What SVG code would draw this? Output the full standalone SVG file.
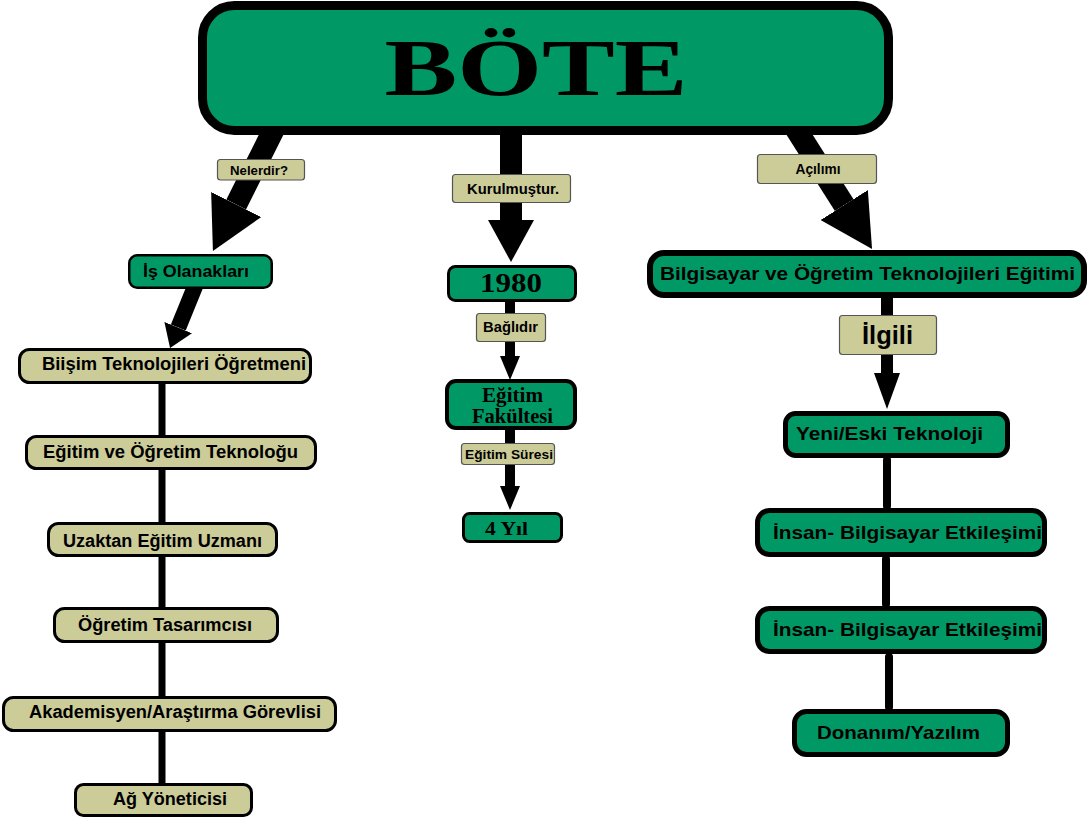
<svg xmlns="http://www.w3.org/2000/svg" width="1088" height="818" viewBox="0 0 1088 818">
<style>
.g{fill:#009966;stroke:#000}
.b{fill:#CCCC99;stroke:#000;stroke-width:3}
.lb{fill:#CCCC99;stroke:#555;stroke-width:1.2}
.t{font-family:"Liberation Sans",Arial,sans-serif;font-weight:bold;fill:#000;text-anchor:middle}
.s{font-family:"Liberation Serif","Times New Roman",serif;font-weight:bold;fill:#000;text-anchor:middle}
.c{stroke:#000;fill:none}
</style>
<defs>
<marker id="hBig" markerUnits="userSpaceOnUse" markerWidth="54" markerHeight="56" viewBox="0 0 54 56" refX="0" refY="28" orient="auto"><path d="M0,0 L52,28 L0,56 z" fill="#000"/></marker>
<marker id="hMid" markerUnits="userSpaceOnUse" markerWidth="44" markerHeight="46" viewBox="0 0 44 46" refX="0" refY="23" orient="auto"><path d="M0,0 L42,23 L0,46 z" fill="#000"/></marker>
<marker id="hIs" markerUnits="userSpaceOnUse" markerWidth="24" markerHeight="30" viewBox="0 0 24 30" refX="0" refY="15" orient="auto"><path d="M0,0 L22,15 L0,30 z" fill="#000"/></marker>
<marker id="hSm" markerUnits="userSpaceOnUse" markerWidth="26" markerHeight="20" viewBox="0 0 26 20" refX="0" refY="10" orient="auto"><path d="M0,0 L24,10 L0,20 z" fill="#000"/></marker>
<marker id="hIl" markerUnits="userSpaceOnUse" markerWidth="36" markerHeight="26" viewBox="0 0 36 26" refX="0" refY="13" orient="auto"><path d="M0,0 L36,13 L0,26 z" fill="#000"/></marker>
</defs>

<g id="connectors">
<line class="c" x1="274.5" y1="128" x2="236.2" y2="204.5" stroke-width="22" marker-end="url(#hBig)"/>
<line class="c" x1="511" y1="128" x2="511" y2="220" stroke-width="22" marker-end="url(#hMid)"/>
<line class="c" x1="795.6" y1="128.5" x2="844.2" y2="205.1" stroke-width="22" marker-end="url(#hBig)"/>
<line class="c" x1="195.4" y1="285.4" x2="178.3" y2="327.6" stroke-width="16" marker-end="url(#hIs)"/>
<line class="c" x1="510" y1="300" x2="510" y2="356" stroke-width="10" marker-end="url(#hSm)"/>
<line class="c" x1="510" y1="428" x2="510" y2="486" stroke-width="10" marker-end="url(#hSm)"/>
<line class="c" x1="887" y1="296" x2="887" y2="373" stroke-width="12" marker-end="url(#hIl)"/>
<g stroke="#000" stroke-width="7">
<line x1="162" y1="383" x2="162" y2="436"/>
<line x1="162" y1="469" x2="162" y2="523"/>
<line x1="162" y1="556" x2="162" y2="608"/>
<line x1="162" y1="642" x2="162" y2="697"/>
<line x1="162" y1="731" x2="162" y2="784"/>
</g>
<g stroke="#000" stroke-width="8" stroke-linecap="round">
<line x1="887" y1="460" x2="887" y2="506"/>
<line x1="886" y1="559" x2="886" y2="604"/>
<line x1="889" y1="657" x2="889" y2="707"/>
</g>
</g>

<g id="labels">
<rect class="lb" x="217.5" y="159.5" width="87" height="20.5" rx="3"/>
<text class="t" x="259" y="174.5" font-size="13" textLength="58" lengthAdjust="spacingAndGlyphs">Nelerdir?</text>
<rect class="lb" x="452.5" y="174.5" width="118" height="28" rx="3"/>
<text class="t" x="513" y="194" font-size="14" textLength="92" lengthAdjust="spacingAndGlyphs">Kurulmuştur.</text>
<rect class="lb" x="757.5" y="154.5" width="119" height="29" rx="3"/>
<text class="t" x="818" y="174" font-size="14" textLength="45" lengthAdjust="spacingAndGlyphs">Açılımı</text>
<rect class="lb" x="476.5" y="313.5" width="69" height="28" rx="3"/>
<text class="t" x="510.5" y="332" font-size="14" textLength="55" lengthAdjust="spacingAndGlyphs">Bağlıdır</text>
<rect class="lb" x="461.5" y="443.5" width="93" height="21" rx="3"/>
<text class="t" x="509" y="458.5" font-size="13" textLength="88" lengthAdjust="spacingAndGlyphs">Eğitim Süresi</text>
<rect class="lb" x="839.5" y="315.5" width="97" height="39" rx="3"/>
<text class="t" x="887.5" y="344" font-size="25" textLength="51" lengthAdjust="spacingAndGlyphs">İlgili</text>
</g>

<g id="node-bote">
<rect class="g" x="202.5" y="5.5" width="686" height="125" rx="32" stroke-width="9"/>
<text class="s" x="536" y="95" font-size="80" textLength="303" lengthAdjust="spacingAndGlyphs">BÖTE</text>
</g>
<g id="node-is-olanaklari">
<rect class="g" x="129.25" y="255.25" width="142.5" height="32.5" rx="8" stroke-width="2.5"/>
<text class="t" x="196" y="277" font-size="17" textLength="106" lengthAdjust="spacingAndGlyphs">İş Olanakları</text>
</g>
<g id="node-bilisim">
<rect class="b" x="19.5" y="349.5" width="291" height="33" rx="10"/>
<text class="t" x="174" y="370" font-size="18" textLength="264" lengthAdjust="spacingAndGlyphs">Biişim Teknolojileri Öğretmeni</text>
</g>
<g id="node-teknologu">
<rect class="b" x="26.5" y="436.5" width="289" height="32" rx="10"/>
<text class="t" x="170.5" y="458" font-size="18" textLength="255" lengthAdjust="spacingAndGlyphs">Eğitim ve Öğretim Teknoloğu</text>
</g>
<g id="node-uzaktan">
<rect class="b" x="48.5" y="523.5" width="228" height="32" rx="10"/>
<text class="t" x="162.5" y="547" font-size="18" textLength="199" lengthAdjust="spacingAndGlyphs">Uzaktan Eğitim Uzmanı</text>
</g>
<g id="node-tasarimci">
<rect class="b" x="54.5" y="608.5" width="223" height="33" rx="10"/>
<text class="t" x="165" y="631" font-size="18" textLength="174" lengthAdjust="spacingAndGlyphs">Öğretim Tasarımcısı</text>
</g>
<g id="node-akademisyen">
<rect class="b" x="3.5" y="697.5" width="332" height="33" rx="10"/>
<text class="t" x="175" y="718" font-size="18" textLength="292" lengthAdjust="spacingAndGlyphs">Akademisyen/Araştırma Görevlisi</text>
</g>
<g id="node-ag">
<rect class="b" x="75.5" y="784.5" width="176" height="31" rx="8"/>
<text class="t" x="170" y="805" font-size="18" textLength="114" lengthAdjust="spacingAndGlyphs">Ağ Yöneticisi</text>
</g>
<g id="node-1980">
<rect class="g" x="448.5" y="266.5" width="127" height="34" rx="7" stroke-width="3"/>
<text class="s" x="511" y="292" font-size="27" textLength="62" lengthAdjust="spacingAndGlyphs">1980</text>
</g>
<g id="node-fakulte">
<rect class="g" x="447" y="381" width="128" height="47" rx="9" stroke-width="4"/>
<text class="s" x="512.5" y="402" font-size="20" textLength="61" lengthAdjust="spacingAndGlyphs">Eğitim</text>
<text class="s" x="512.5" y="423" font-size="20" textLength="81" lengthAdjust="spacingAndGlyphs">Fakültesi</text>
</g>
<g id="node-4yil">
<rect class="g" x="463.5" y="513.5" width="98" height="28" rx="6" stroke-width="3"/>
<text class="s" x="506.5" y="535" font-size="19" textLength="43" lengthAdjust="spacingAndGlyphs">4 Yıl</text>
</g>
<g id="node-bilgisayar">
<rect class="g" x="650" y="253" width="434" height="42" rx="14" stroke-width="6"/>
<text class="t" x="867.5" y="280" font-size="19" textLength="415" lengthAdjust="spacingAndGlyphs">Bilgisayar ve Öğretim Teknolojileri Eğitimi</text>
</g>
<g id="node-yeni-eski">
<rect class="g" x="785.5" y="413.5" width="222" height="42" rx="10" stroke-width="5"/>
<text class="t" x="889.5" y="440" font-size="19" textLength="187" lengthAdjust="spacingAndGlyphs">Yeni/Eski Teknoloji</text>
</g>
<g id="node-insan-1">
<rect class="g" x="757.5" y="510.5" width="287" height="44" rx="12" stroke-width="5"/>
<text class="t" x="907.5" y="539" font-size="19" textLength="269" lengthAdjust="spacingAndGlyphs">İnsan- Bilgisayar Etkileşimi</text>
</g>
<g id="node-insan-2">
<rect class="g" x="757.5" y="608.5" width="287" height="43" rx="12" stroke-width="5"/>
<text class="t" x="907.5" y="636" font-size="19" textLength="269" lengthAdjust="spacingAndGlyphs">İnsan- Bilgisayar Etkileşimi</text>
</g>
<g id="node-donanim">
<rect class="g" x="794.5" y="711.5" width="213" height="43" rx="12" stroke-width="5"/>
<text class="t" x="898.5" y="739" font-size="19" textLength="163" lengthAdjust="spacingAndGlyphs">Donanım/Yazılım</text>
</g>
</svg>
